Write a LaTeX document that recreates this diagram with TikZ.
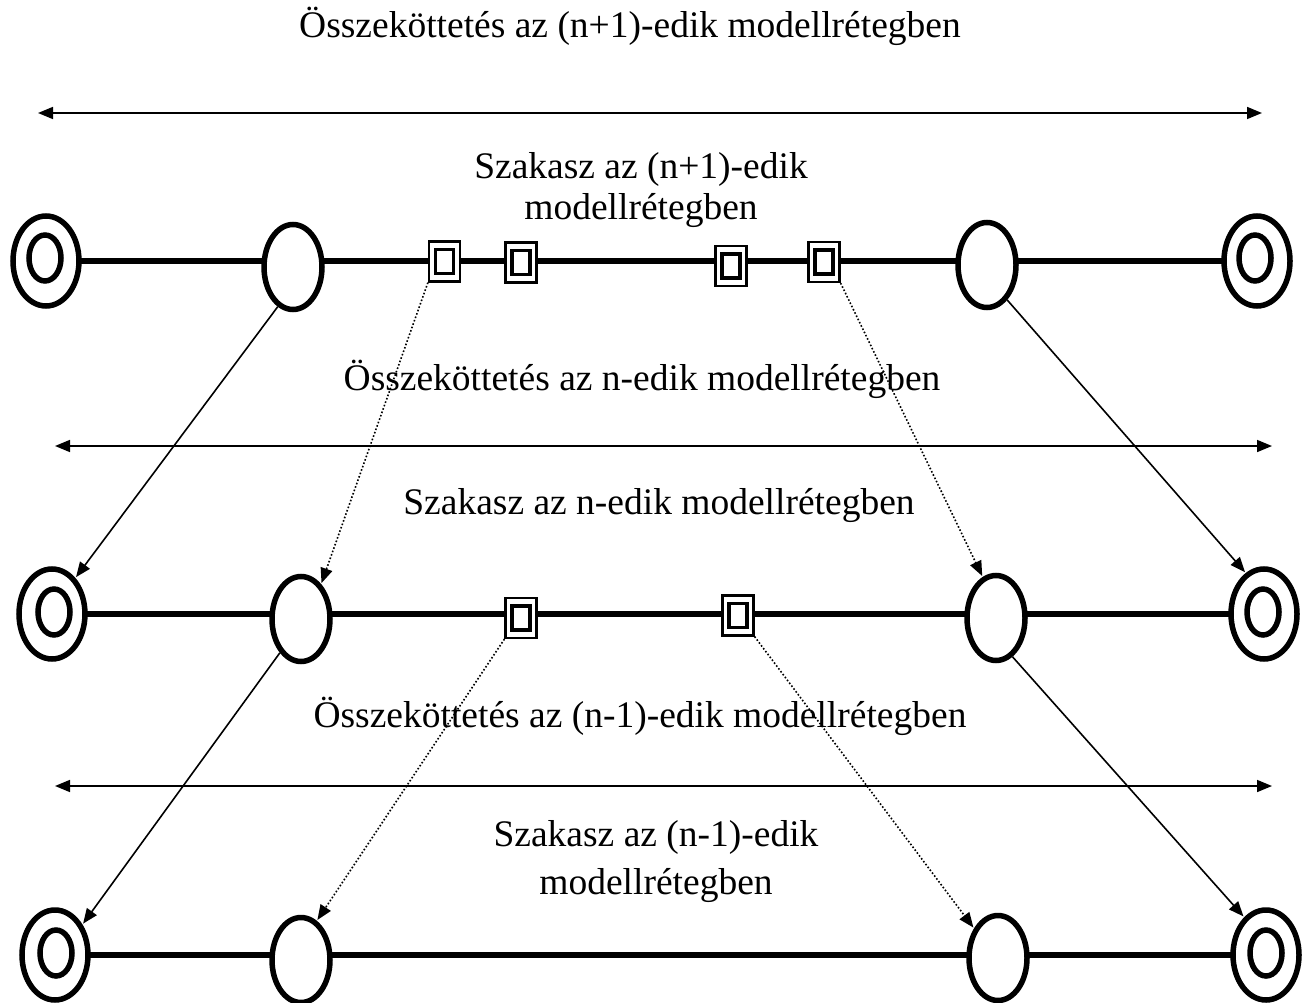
\documentclass[tikz,border=0pt]{standalone}
\usepackage{fontspec}
\setmainfont{Liberation Serif}
\usetikzlibrary{shapes.geometric,arrows.meta,backgrounds}

\tikzset{
  wire/.style={line width=5.5pt},
  endpt/.style={ellipse,draw,fill=white,line width=5.5pt,inner sep=0pt,
    minimum width=66pt,minimum height=90pt},
  endin/.style={ellipse,draw,line width=5.5pt,inner sep=0pt,
    minimum width=32pt,minimum height=46pt},
  relay/.style={ellipse,draw,fill=white,line width=5.5pt,inner sep=0pt,
    minimum width=58pt,minimum height=85pt},
  boxo/.style={rectangle,draw,fill=white,line width=2.2pt,inner sep=0pt,
    minimum width=31pt,minimum height=40pt},
  boxi/.style={rectangle,draw,line width=3.8pt,inner sep=0pt,
    minimum width=18pt,minimum height=24pt},
  span/.style={line width=1.6pt,{Triangle[length=15pt,width=12pt]}-{Triangle[length=15pt,width=12pt]}},
  down/.style={line width=1.6pt,-{Triangle[length=15pt,width=12pt]},shorten >=1pt},
  downdot/.style={line width=1.6pt,dotted,-{Triangle[length=15pt,width=12pt,line cap=butt]},shorten >=1pt},
  lbl/.style={anchor=base,inner sep=0pt,font=\fontsize{37.5}{45}\selectfont},
}

\newcommand{\hopbox}[2]{%
  \node[boxo] (#1) at (#2) {};
  \node[boxi] at (#1) {};
}

\begin{document}
\begin{tikzpicture}[x=1pt,y=-1pt]
\useasboundingbox (0,0) rectangle (1306,1003);

% ---------- layer n+1 ----------
\node[lbl] (t1) at (630,38) {Összeköttetés az (n+1)-edik modellrétegben};
\node[lbl] (s1a) at (641,179) {Szakasz az (n+1)-edik};
\node[lbl] (s1b) at (641,219) {modellrétegben};

\coordinate (h1l) at (38,113);
\coordinate (h1r) at (1262,113);
\draw[span] (h1l) -- (h1r);

\node[endpt] (dA1) at (46,261) {};
\node[endin] at (45,258) {};
\node[endpt] (dB1) at (1257,261) {};
\node[endin] at (1255,258) {};
\node[relay] (eA1) at (293,267) {};
\node[relay] (eB1) at (987,265) {};
\hopbox{b11}{444.5,261.5}
\hopbox{b12}{521,262.5}
\hopbox{b13}{731,266}
\hopbox{b14}{824,262}

% ---------- layer n ----------
\node[lbl] (t2) at (642,390) {Összeköttetés az n-edik modellrétegben};
\node[lbl] (s2) at (659,514) {Szakasz az n-edik modellrétegben};

\coordinate (h2l) at (55,446);
\coordinate (h2r) at (1272,446);
\draw[span] (h2l) -- (h2r);

\node[endpt] (dA2) at (52,614) {};
\node[endin] at (54,612) {};
\node[endpt] (dB2) at (1264,614) {};
\node[endin] at (1263,612) {};
\node[relay] (eA2) at (301,619) {};
\node[relay] (eB2) at (996,618) {};
\hopbox{b21}{521,618}
\hopbox{b22}{738,615.5}

% ---------- layer n-1 ----------
\node[lbl] (t3) at (640,727) {Összeköttetés az (n-1)-edik modellrétegben};
\node[lbl] (s3a) at (656,846) {Szakasz az (n-1)-edik};
\node[lbl] (s3b) at (656,894) {modellrétegben};

\coordinate (h3l) at (55,786);
\coordinate (h3r) at (1272,786);
\draw[span] (h3l) -- (h3r);

\node[endpt] (dA3) at (55,955) {};
\node[endin] at (56,953) {};
\node[endpt] (dB3) at (1266,955) {};
\node[endin] at (1266,953) {};
\node[relay] (eA3) at (301,960) {};
\node[relay] (eB3) at (998,958) {};

% ---------- section wires behind the nodes ----------
\begin{scope}[on background layer]
  \draw[wire] (dA1.center) -- (dB1.center);
  \draw[wire] (dA2.center) -- (dB2.center);
  \draw[wire] (dA3.center) -- (dB3.center);
\end{scope}

% ---------- mappings between layers ----------
\draw[down] (eA1.-111) -- (dA2.57);
\draw[down] (eB1.-60) -- (dB2.114);
\draw[down] (eA2.-122) -- (dA3.48);
\draw[down] (eB2.-67) -- (dB3.120);

\draw[downdot] (b11.south west) -- (eA2.60);
\draw[downdot] (b14.south east) -- (eB2.108);
\draw[downdot] (b21.south west) -- (eA3.68);
\draw[downdot] (b22.south east) -- (eB3.129);
\end{tikzpicture}
\end{document}
